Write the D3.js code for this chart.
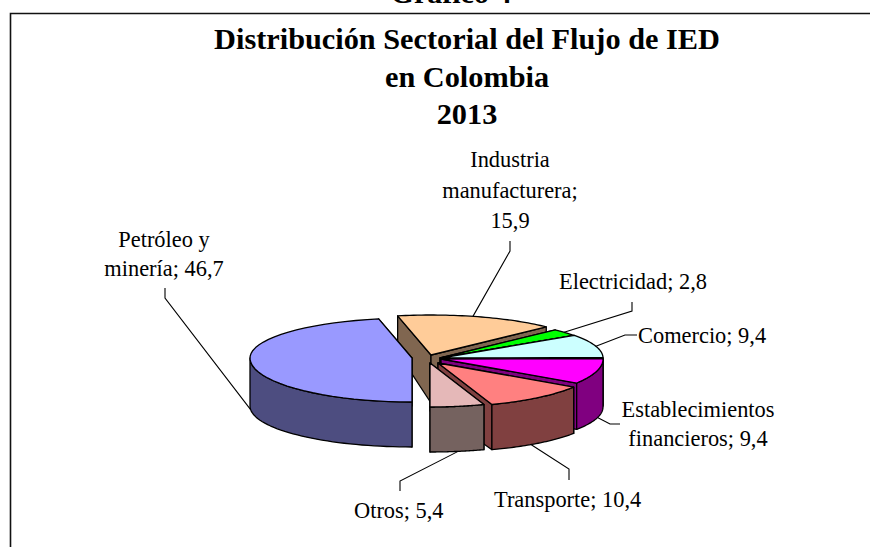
<!DOCTYPE html>
<html>
<head>
<meta charset="utf-8">
<script src="https://d3js.org/d3.v7.min.js"></script>
<style>
html, body { margin: 0; padding: 0; background: #fff; overflow: hidden; }
text { font-family: "Liberation Serif", serif; fill: #000; }
</style>
</head>
<body>
<svg id="chart" width="870" height="547"></svg>
<script>
// values
const categories = ["Petróleo y minería", "Industria manufacturera", "Electricidad", "Comercio", "Establecimientos financieros", "Transporte", "Otros"];
const shares = [46.7, 15.9, 2.8, 9.4, 9.4, 10.4, 5.4];
const titleLines = ["Distribución Sectorial del Flujo de IED", "en Colombia", "2013"];

const topColors = ["#9999ff", "#ffcc99", "#00ff00", "#ccffff", "#ff00ff", "#ff8080", "#e5b8b8"];
const sideColors = ["#4d4d80", "#806650", "#008000", "#668080", "#800080", "#804040", "#75625f"];
// how far each slice is pulled out of the pie
const explode = [[-29, 0], [-10, -3], [-1, 0], [0, 0], [0, 1], [-3, 5], [-11, 5]];
// back to front
const drawOrder = [1, 2, 3, 4, 5, 6, 0];

const labelLayout = [
	{lines: [2, 2], x: 164, y: 247, anchor: "middle", lead: 29, leaderDeg: 265, bottom: true, elbow: [[165, 298], [165, 288]]},
	{lines: [1, 1, 1], x: 510, y: 167, anchor: "middle", lead: 30.5, leaderDeg: 15, bottom: false, elbow: [[510, 251], [510, 241]]},
	{lines: [3], x: 559, y: 289, anchor: "start", lead: 0, leaderDeg: 50, bottom: false, elbow: [[632, 311], [632, 302]]},
	{lines: [2], x: 638, y: 343, anchor: "start", lead: 0, leaderDeg: 73, bottom: false, elbow: [[625, 335], [637, 335]]},
	{lines: [1, 3], x: 698, y: 417, anchor: "middle", lead: 29, leaderDeg: 105, bottom: true, elbow: [[610, 424], [620, 424]]},
	{lines: [2], x: 494, y: 507, anchor: "start", lead: 0, leaderDeg: 145, bottom: true, elbow: [[569, 469], [569, 480]]},
	{lines: [2], x: 354, y: 518, anchor: "start", lead: 0, leaderDeg: 170, bottom: true, elbow: [[400, 481], [400, 491]]}
];

const svg = d3.select("#chart");

// chart frame runs off the right and bottom of the page
svg.append("path")
	.attr("d", "M900,13.5H10.5V560")
	.attr("fill", "none")
	.attr("stroke", "#111")
	.attr("stroke-width", 1.6);

svg.append("text")
	.attr("x", 451)
	.attr("y", 3)
	.attr("text-anchor", "middle")
	.attr("font-weight", "bold")
	.attr("font-size", 30)
	.text("Gráfico 4");

svg.selectAll(".title").data(titleLines).enter().append("text")
	.attr("class", "title")
	.attr("x", 467)
	.attr("y", function(d, i) { return [49, 87, 124][i]; })
	.attr("text-anchor", "middle")
	.attr("font-weight", "bold")
	.attr("font-size", 30.3)
	.text(function(d) { return d; });

const cx = 441, cy = 358, rx = 162, depth = 48;
const topBack = 40, topFront = 44, bottomBack = 52, bottomFront = 41;

const pie = d3.pie().sort(null).value(function(d) { return d; }).startAngle(Math.PI).endAngle(3 * Math.PI);
const slices = pie(shares);

// 3d projection of a rim point; a is clockwise from the top
const rim = function(i, a, low) {
	const c = Math.cos(a);
	const ry = low ? (c > 0 ? bottomBack : bottomFront) : (c > 0 ? topBack : topFront);
	return [
		cx + explode[i][0] + rx * Math.sin(a),
		cy + explode[i][1] - ry * c + (low ? depth : 0)
	];
};
const apex = function(i, low) {
	return [cx + explode[i][0], cy + explode[i][1] + (low ? depth : 0)];
};
const arcPoints = function(i, a0, a1, low) {
	return d3.range(0, 41).map(function(k) { return rim(i, a0 + (a1 - a0) * k / 40, low); });
};
const line = d3.line();
const closed = function(pts) { return line(pts) + "Z"; };

const slice = svg.append("g")
	.attr("stroke", "#000")
	.attr("stroke-width", 1.3)
	.attr("stroke-linejoin", "round")
	.selectAll("g")
	.data(drawOrder)
	.enter().append("g");

slice.each(function(i) {
	const g = d3.select(this), s = slices[i];

	// the two cut faces
	[s.startAngle, s.endAngle].forEach(function(a) {
		g.append("path")
			.attr("d", closed([apex(i, false), rim(i, a, false), rim(i, a, true), apex(i, true)]))
			.attr("fill", sideColors[i]);
	});

	// outer wall, only the part that faces the viewer (pie angles run past a full turn)
	[0, 2 * Math.PI].forEach(function(turn) {
		const a0 = Math.max(s.startAngle, turn + Math.PI / 2), a1 = Math.min(s.endAngle, turn + 1.5 * Math.PI);
		if (a1 > a0) {
			g.append("path")
				.attr("d", closed(arcPoints(i, a0, a1, false).concat(arcPoints(i, a1, a0, true))))
				.attr("fill", sideColors[i]);
		}
	});

	g.append("path")
		.attr("d", closed([apex(i, false)].concat(arcPoints(i, s.startAngle, s.endAngle, false))))
		.attr("fill", topColors[i]);
});

// leader lines
svg.append("g").selectAll("path")
	.data(labelLayout)
	.enter().append("path")
	.attr("fill", "none")
	.attr("stroke", "#000")
	.attr("stroke-width", 1.1)
	.attr("d", function(d, i) {
		return line([rim(i, d.leaderDeg * Math.PI / 180, d.bottom)].concat(d.elbow));
	});

// data labels
const label = svg.append("g").selectAll("text")
	.data(labelLayout)
	.enter().append("text")
	.attr("text-anchor", function(d) { return d.anchor; })
	.attr("font-size", 22.4);

label.each(function(d, i) {
	const words = (categories[i] + "; " + String(shares[i]).replace(".", ",")).split(" ");
	let at = 0;
	d.lines.forEach(function(n, k) {
		d3.select(this).append("tspan")
			.attr("x", d.x)
			.attr("y", d.y + k * d.lead)
			.text(words.slice(at, at + n).join(" "));
		at += n;
	}, this);
});
</script>
</body>
</html>
